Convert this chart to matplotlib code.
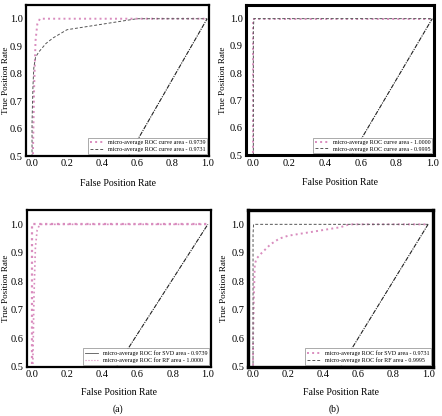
import matplotlib
matplotlib.use("Agg")
import matplotlib.pyplot as plt

plt.rcParams['font.family'] = ['Liberation Serif', 'DejaVu Serif']

# panel 1 / top left
p1_pink_x = [0.0, 0.005, 0.012, 0.02, 0.03, 0.045, 0.2, 0.5, 1.0]
p1_pink_y = [0.0, 0.5, 0.75, 0.92, 0.98, 1.0, 1.0, 1.0, 1.0]
p1_gray_x = [0.0, 0.0, 0.005, 0.01, 0.02, 0.04, 0.08, 0.12, 0.2, 0.3, 0.4, 0.5, 0.55, 0.6, 1.0]
p1_gray_y = [0.0, 0.62, 0.75, 0.82, 0.86, 0.88, 0.91, 0.93, 0.96, 0.97, 0.98, 0.99, 0.995, 1.0, 1.0]
p1_labels = ["micro-average ROC curve area - 0.9739",
             "micro-average ROC curve area - 0.9731"]

# panel 2 / top right
p2_pink_x = [0.0, 0.0, 1.0]
p2_pink_y = [0.0, 1.0, 1.0]
p2_gray_x = [0.0, 0.0, 0.003, 1.0]
p2_gray_y = [0.0, 0.96, 1.0, 1.0]
p2_labels = ["micro-average ROC curve area - 1.0000",
             "micro-average ROC curve area - 0.9995"]

# panel 3 / bottom left
p3_pink_x = [0.0, 0.005, 0.012, 0.02, 0.03, 0.045, 1.0]
p3_pink_y = [0.0, 0.5, 0.75, 0.92, 0.98, 1.0, 1.0]
p3_gray_x = [0.0, 0.0, 1.0]
p3_gray_y = [0.0, 1.0, 1.0]
p3_labels = ["micro-average ROC for SVD area - 0.9739",
             "micro-average ROC for RF area - 1.0000"]

# panel 4 / bottom right
p4_pink_x = [0.0, 0.0, 0.005, 0.01, 0.02, 0.05, 0.1, 0.15, 0.2, 0.3, 0.4, 0.5, 0.55, 1.0]
p4_pink_y = [0.0, 0.6, 0.75, 0.86, 0.88, 0.9, 0.93, 0.95, 0.96, 0.97, 0.98, 0.99, 1.0, 1.0]
p4_gray_x = [0.0, 0.0, 0.003, 1.0]
p4_gray_y = [0.0, 0.965, 1.0, 1.0]
p4_labels = ["micro-average ROC for SVD area - 0.9731",
             "micro-average ROC for RF area - 0.9995"]

# chance line, as it sits in each panel
chance_x = [[0.55, 1.0], [0.55, 1.0], [0.48, 1.0], [0.5, 1.0]]
chance_y = [0.5, 1.0]

yticks = [0.5, 0.6, 0.7, 0.8, 0.9, 1.0]
xticks = [0.0, 0.2, 0.4, 0.6, 0.8, 1.0]

fig = plt.figure(figsize=(4.42, 4.16), dpi=100)

boxes = [
    [0.059, 0.625, 0.414, 0.363],
    [0.557, 0.627, 0.425, 0.361],
    [0.061, 0.118, 0.416, 0.377],
    [0.561, 0.118, 0.419, 0.377],
]
xlims = [(-0.034, 1.011), (-0.04, 1.01), (-0.028, 1.017), (-0.029, 1.029)]
spine_w = [1.6, 2.2, 1.6, 2.4]
ylab_x = [-0.112, -0.125, -0.116, -0.13]
xlab_y = [-0.179, -0.18, -0.166, -0.166]

data = [
    (p1_pink_x, p1_pink_y, p1_gray_x, p1_gray_y, p1_labels),
    (p2_pink_x, p2_pink_y, p2_gray_x, p2_gray_y, p2_labels),
    (p3_gray_x, p3_gray_y, p3_pink_x, p3_pink_y, p3_labels),
    (p4_pink_x, p4_pink_y, p4_gray_x, p4_gray_y, p4_labels),
]

pink = "#d98cbe"
gray = "#555555"

for i in range(4):
    ax = fig.add_axes(boxes[i])
    ax_x1, ax_y1, ax_x2, ax_y2, labels = data[i]
    if i == 2:
        # first legend entry is dark, second is pink here
        ax.plot(ax_x1, ax_y1, color=pink, ls=":", lw=1.6)
        ax.plot(ax_x2, ax_y2, color=pink, ls=":", lw=1.2)
        h1, = ax.plot([], [], color=gray, ls="-", lw=0.6)
        h2, = ax.plot([], [], color=pink, ls=":", lw=0.8)
        handles = [h1, h2]
    else:
        h1, = ax.plot(ax_x1, ax_y1, color=pink, ls=":", lw=1.4)
        h2, = ax.plot(ax_x2, ax_y2, color=gray, ls=(0, (3, 2)), lw=0.7)
        handles = [h1, h2]
    ax.plot(chance_x[i], chance_y, color="#222222", ls=(0, (4, 1, 1, 1)), lw=0.8)

    ax.set_xlim(*xlims[i])
    ax.set_ylim(0.5, 1.05)
    ax.set_xticks(xticks)
    ax.set_yticks(yticks)
    ax.tick_params(length=0, labelsize=7.5, pad=2.5)
    for s in ax.spines.values():
        s.set_linewidth(spine_w[i])
    ax.set_xlabel("False Position Rate", fontsize=7, va="center")
    ax.set_ylabel("True Position Rate", fontsize=6.5, va="center")
    ax.xaxis.set_label_coords(0.5, xlab_y[i])
    ax.yaxis.set_label_coords(ylab_x[i], 0.5)
    leg = ax.legend(handles, labels, loc="lower right", fontsize=4.3,
                    fancybox=False, edgecolor="#888888", handlelength=2.2,
                    borderaxespad=0.3, borderpad=0.3, labelspacing=0.3,
                    framealpha=1)
    leg.get_frame().set_linewidth(0.5)

fig.text(0.267, 0.017, "(a)", fontsize=7, ha="center", va="center")
fig.text(0.756, 0.017, "(b)", fontsize=7, ha="center", va="center")

fig.savefig("out.png", dpi=100)
